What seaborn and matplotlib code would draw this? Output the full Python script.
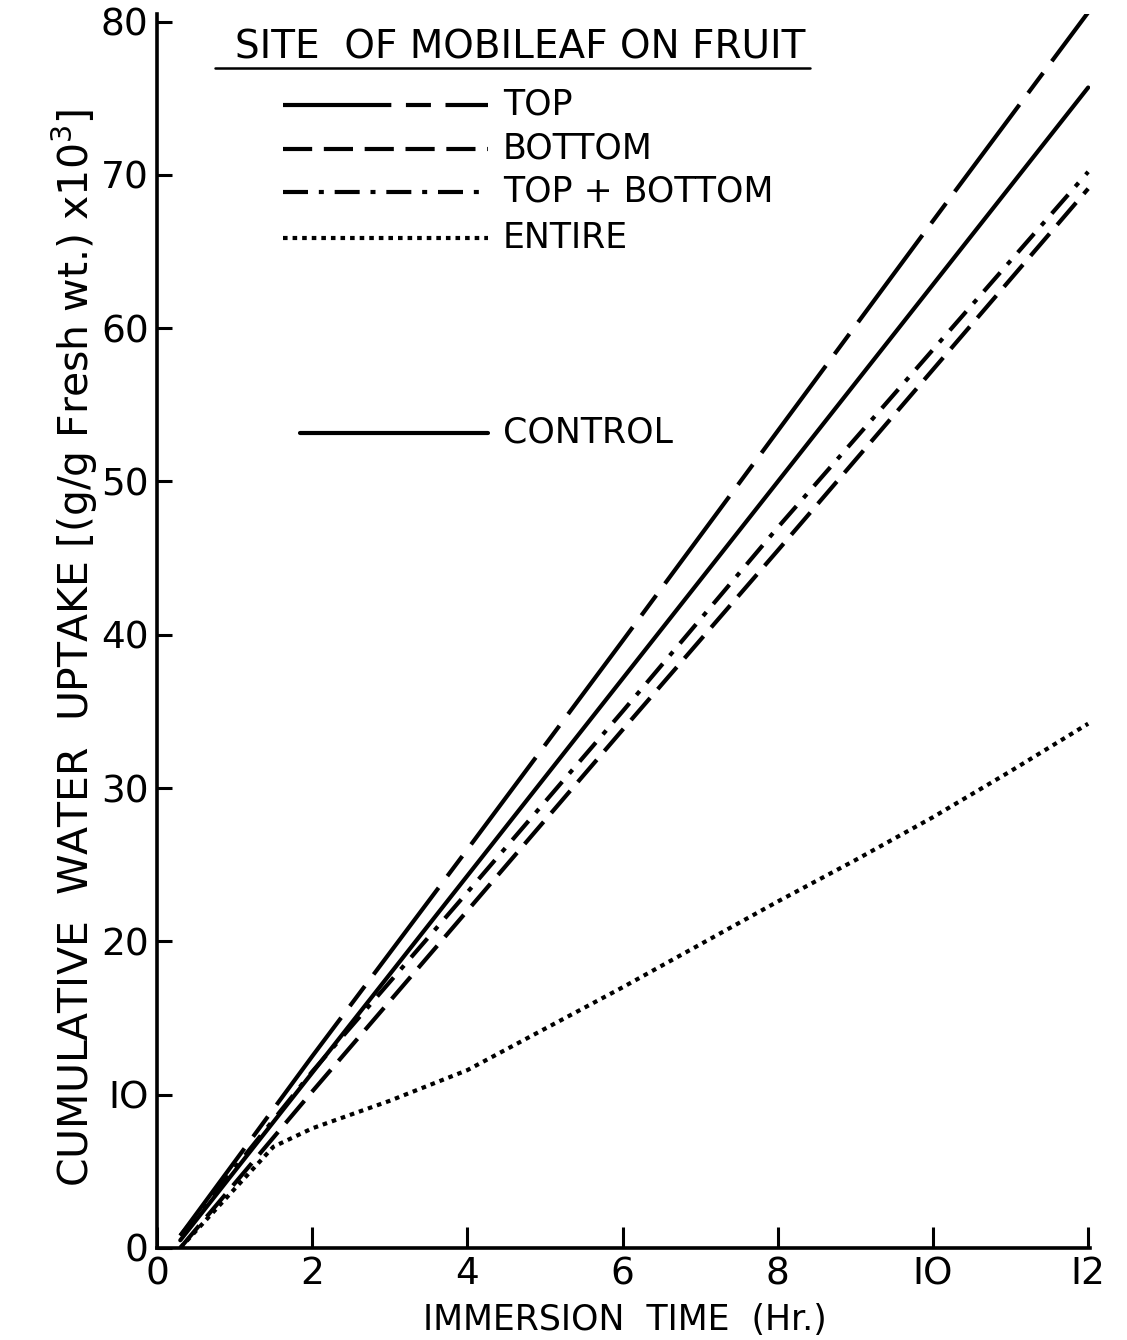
import numpy as np
import pandas as pd
import matplotlib
matplotlib.use('Agg')
import matplotlib.pyplot as plt
from matplotlib.lines import Line2D
import seaborn as sns

# cumulative water uptake (g/g fresh wt. x10^3) vs hours
top_x = [0.3, 2, 4, 6, 8, 10, 12]
top_y = [0.8, 12.5, 26.0, 39.6, 53.3, 67.0, 80.6]
bottom_x = [0.3, 2, 4, 6, 8, 10, 12]
bottom_y = [0.0, 10.2, 22.0, 33.8, 45.5, 57.3, 69.1]
topbot_x = [0.3, 2, 4, 6, 8, 10, 12]
topbot_y = [0.8, 11.5, 23.2, 35.0, 47.0, 58.6, 70.2]
entire_x = [0.3, 1.5, 2, 3, 4, 5, 6, 7, 8, 9, 10, 11, 12]
entire_y = [0.0, 6.6, 7.8, 9.6, 11.6, 14.3, 17.0, 19.8, 22.6, 25.3, 28.1, 31.1, 34.2]
control_x = [0.3, 12]
control_y = [0.5, 75.7]

site_names = ['TOP', 'BOTTOM', 'TOP + BOTTOM', 'ENTIRE', 'CONTROL']

frames = []
for name, xs, ys in zip(site_names,
                        [top_x, bottom_x, topbot_x, entire_x, control_x],
                        [top_y, bottom_y, topbot_y, entire_y, control_y]):
    frames.append(pd.DataFrame({'time': xs, 'uptake': ys, 'site': name}))
df = pd.concat(frames, ignore_index=True)

dash_styles = {
    'TOP': (26, 3.5, 6, 3.5),
    'BOTTOM': (7, 2.8),
    'TOP + BOTTOM': (6, 2.6, 1.2, 2.6),
    'ENTIRE': (1.1, 1.2),
    'CONTROL': '',
}

sns.set_style('ticks')
plt.rcParams['font.family'] = ['DejaVu Sans']
plt.rcParams['text.color'] = 'black'
plt.rcParams['axes.labelcolor'] = 'black'

fig = plt.figure(figsize=(11.27, 13.4), dpi=100)
ax = fig.add_axes([0.1393, 0.0687, 0.8283, 0.9209])

sns.lineplot(data=df, x='time', y='uptake', style='site', dashes=dash_styles,
             color='black', linewidth=3, legend=False, ax=ax, sort=False)

ax.set_xlim(0, 12.03)
ax.set_ylim(0, 80.5)
ax.set_xticks(np.arange(0, 13, 2))
ax.set_yticks(np.arange(0, 81, 10))
ax.set_xticklabels(['0', '2', '4', '6', '8', 'IO', 'I2'])
ax.set_yticklabels(['0', 'IO', '20', '30', '40', '50', '60', '70', '80'])
ax.tick_params(direction='in', length=11, width=2.2, labelsize=27, pad=6,
               colors='black')
ax.tick_params(axis='x', length=15)
sns.despine(ax=ax)
for side in ['left', 'bottom']:
    ax.spines[side].set_linewidth(2.6)
    ax.spines[side].set_color('black')

ax.set_xlabel('IMMERSION  TIME  (Hr.)', fontsize=25)
ax.xaxis.set_label_coords(0.501, -0.045)
ax.set_ylabel('CUMULATIVE  WATER  UPTAKE [(g/g Fresh wt.) x10$^3$]', fontsize=29.5)
ax.yaxis.set_label_coords(-0.061, 0.486)

# hand-drawn key in the upper left
def fx(px):
    return (px - 157) / 933.5

def fy(py):
    return (1248 - py) / 1234

ax.text(fx(235), fy(48), 'SITE  OF MOBILEAF ON FRUIT', fontsize=28,
        transform=ax.transAxes, va='center', ha='left')
ax.add_line(Line2D([fx(215), fx(810)], [fy(68), fy(68)], color='black',
                   linewidth=1.8, transform=ax.transAxes))

key_rows = [('TOP', 283, 105), ('BOTTOM', 283, 149), ('TOP + BOTTOM', 283, 192),
            ('ENTIRE', 283, 238), ('CONTROL', 300, 433)]
for name, x0, py in key_rows:
    seg = Line2D([fx(x0), fx(488)], [fy(py), fy(py)], color='black',
                 linewidth=3, transform=ax.transAxes)
    if dash_styles[name]:
        seg.set_dashes(dash_styles[name])
    ax.add_line(seg)
    ax.text(fx(503), fy(py), name, fontsize=25, transform=ax.transAxes,
            va='center', ha='left')

fig.savefig('out.png', dpi=100)
